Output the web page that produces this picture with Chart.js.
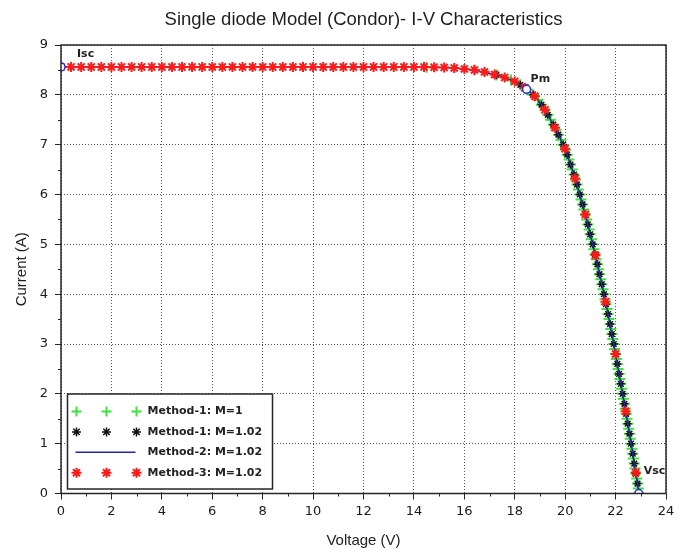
<!DOCTYPE html>
<html>
<head>
<meta charset="utf-8">
<title>Single diode Model (Condor)- I-V Characteristics</title>
<script src="https://cdn.jsdelivr.net/npm/chart.js@4.4.1/dist/chart.umd.min.js"></script>
<style>
  html, body { margin: 0; padding: 0; background: #fff; }
  #chart { display: block; }
</style>
</head>
<body>
<canvas id="chart" width="685" height="550"></canvas>
<script>
/* ================================================================
   Single diode model (Condor) - I-V characteristics
   ================================================================ */

// Method-3, M=1.02 (red stars) - sampled on the voltage axis
const redV = [0, 0.4, 0.8, 1.2, 1.6, 2.0, 2.4, 2.8, 3.2, 3.6, 4.0, 4.4, 4.8, 5.2, 5.6, 6.0,
  6.4, 6.8, 7.2, 7.6, 8.0, 8.4, 8.8, 9.2, 9.6, 10.0, 10.4, 10.8, 11.2, 11.6, 12.0, 12.4,
  12.8, 13.2, 13.6, 14.0, 14.4, 14.8, 15.2, 15.6, 16.0, 16.4, 16.8, 17.2, 17.6, 18.0, 18.4,
  18.8, 19.2, 19.6, 20.0, 20.4, 20.8, 21.2, 21.6, 22.0, 22.4, 22.8];
const redI = [8.56, 8.56, 8.56, 8.56, 8.56, 8.56, 8.56, 8.56, 8.56, 8.56, 8.56, 8.56, 8.56, 8.56, 8.56, 8.56,
  8.56, 8.56, 8.56, 8.56, 8.56, 8.56, 8.56, 8.56, 8.56, 8.56, 8.56, 8.56, 8.56, 8.56, 8.56, 8.56,
  8.56, 8.56, 8.56, 8.56, 8.56, 8.555, 8.55, 8.54, 8.52, 8.50, 8.46, 8.41, 8.35, 8.27, 8.14,
  7.97, 7.70, 7.34, 6.92, 6.32, 5.60, 4.78, 3.85, 2.80, 1.65, 0.42];

// Method-1, M=1 (green plus) - sampled on the current axis
const greenI = [8.555, 8.5, 8.4, 8.3, 8.2, 8.1, 8.0, 7.9, 7.8, 7.7, 7.6, 7.5, 7.4, 7.3, 7.2, 7.1,
  7.0, 6.9, 6.8, 6.7, 6.6, 6.5, 6.4, 6.3, 6.2, 6.1, 6.0, 5.9, 5.8, 5.7, 5.6, 5.5, 5.4, 5.3,
  5.2, 5.1, 5.0, 4.9, 4.8, 4.7, 4.6, 4.5, 4.4, 4.3, 4.2, 4.1, 4.0, 3.9, 3.8, 3.7, 3.6, 3.5,
  3.4, 3.3, 3.2, 3.1, 3.0, 2.9, 2.8, 2.7, 2.6, 2.5, 2.4, 2.3, 2.2, 2.1, 2.0, 1.9, 1.8, 1.7,
  1.6, 1.5, 1.4, 1.3, 1.2, 1.1, 1.0, 0.9, 0.8, 0.7, 0.6, 0.5, 0.4, 0.3, 0.2, 0.1, 0.0];
const greenV = [14.5, 16.4, 17.27, 17.85, 18.22, 18.5, 18.73, 18.92, 19.06, 19.2, 19.31, 19.42,
  19.53, 19.64, 19.73, 19.83, 19.92, 20.01, 20.08, 20.15, 20.21, 20.28, 20.35, 20.41, 20.47,
  20.52, 20.58, 20.63, 20.69, 20.74, 20.8, 20.85, 20.9, 20.95, 20.99, 21.04, 21.09, 21.14,
  21.19, 21.23, 21.28, 21.32, 21.36, 21.41, 21.45, 21.5, 21.54, 21.58, 21.62, 21.66, 21.7,
  21.74, 21.78, 21.81, 21.85, 21.89, 21.93, 21.96, 22.0, 22.03, 22.07, 22.1, 22.14, 22.17,
  22.21, 22.24, 22.28, 22.31, 22.35, 22.38, 22.42, 22.45, 22.48, 22.52, 22.55, 22.58, 22.61,
  22.65, 22.68, 22.71, 22.74, 22.77, 22.8, 22.84, 22.87, 22.9, 22.92];

// Method-1, M=1.02 (black stars)
const blackI = [8.4, 8.2, 8.0, 7.8, 7.6, 7.4, 7.2, 7.0, 6.8, 6.6, 6.4, 6.2, 6.0, 5.8, 5.6, 5.4,
  5.2, 5.0, 4.8, 4.6, 4.4, 4.2, 4.0, 3.8, 3.6, 3.4, 3.2, 3.0, 2.8, 2.6, 2.4, 2.2, 2.0, 1.8,
  1.6, 1.4, 1.2, 1.0, 0.8, 0.6, 0.4, 0.2];
const blackV = [17.27, 18.22, 18.73, 19.06, 19.31, 19.53, 19.73, 19.92, 20.08, 20.21, 20.35,
  20.47, 20.58, 20.69, 20.8, 20.9, 20.99, 21.09, 21.19, 21.28, 21.36, 21.45, 21.54, 21.62,
  21.7, 21.78, 21.85, 21.93, 22.0, 22.07, 22.14, 22.21, 22.28, 22.35, 22.42, 22.48, 22.55,
  22.61, 22.68, 22.74, 22.8, 22.87];

// Key points: short circuit, maximum power, open circuit
const keyNames = ['Isc', 'Pm', 'Vsc'];
const keyV = [0, 18.47, 22.92];
const keyI = [8.56, 8.11, 0];

const legendLabels = ['Method-1: M=1', 'Method-1: M=1.02', 'Method-2: M=1.02', 'Method-3: M=1.02'];
const xTicks = [0, 2, 4, 6, 8, 10, 12, 14, 16, 18, 20, 22, 24];
const yTicks = [0, 1, 2, 3, 4, 5, 6, 7, 8, 9];

const toPoints = (xs, ys) => xs.map((x, i) => ({ x: x, y: ys[i] }));

// Method-2 (blue line): flat part from the voltage sweep, steep part from the current sweep
const bluePoints = toPoints(redV, redI).filter(p => p.x <= 16.0)
  .concat(toPoints(greenV, greenI).slice(1));

const COLORS = { green: '#3fe03f', black: '#111111', blue: '#2727a6', red: '#ff1a1a', key: '#2a2ad0' };

function drawMarker(ctx, style, x, y, r, color, width) {
  ctx.save();
  ctx.strokeStyle = color;
  ctx.lineWidth = width;
  ctx.beginPath();
  if (style === 'cross' || style === 'star') {
    ctx.moveTo(x - r, y); ctx.lineTo(x + r, y);
    ctx.moveTo(x, y - r); ctx.lineTo(x, y + r);
  }
  if (style === 'star') {
    const d = r * Math.SQRT1_2;
    ctx.moveTo(x - d, y - d); ctx.lineTo(x + d, y + d);
    ctx.moveTo(x - d, y + d); ctx.lineTo(x + d, y - d);
  }
  if (style === 'line') {
    ctx.moveTo(x - r, y); ctx.lineTo(x + r, y);
  }
  ctx.stroke();
  ctx.restore();
}

// Title, frame, minor ticks, point labels and the boxed legend
const decorations = {
  id: 'decorations',
  afterDatasetsDraw(chart) {
    const { ctx, chartArea: a, scales } = chart;

    // frame
    ctx.save();
    ctx.strokeStyle = '#262626';
    ctx.lineWidth = 1.5;
    ctx.strokeRect(a.left, a.top, a.right - a.left, a.bottom - a.top);

    // minor ticks
    ctx.lineWidth = 1;
    ctx.beginPath();
    for (let v = 1; v < 24; v += 2) {
      const px = Math.round(scales.x.getPixelForValue(v)) + 0.5;
      ctx.moveTo(px, a.bottom); ctx.lineTo(px, a.bottom + 3);
    }
    for (let v = 0.5; v < 9; v += 1) {
      const py = Math.round(scales.y.getPixelForValue(v)) + 0.5;
      ctx.moveTo(a.left, py); ctx.lineTo(a.left - 3, py);
    }
    ctx.stroke();

    // title
    ctx.fillStyle = '#1e1e1e';
    ctx.font = '18.5px "Liberation Sans", Arial, sans-serif';
    ctx.textAlign = 'center';
    ctx.textBaseline = 'middle';
    ctx.fillText('Single diode Model (Condor)- I-V Characteristics', (a.left + a.right) / 2, 20);

    // key point labels
    const offsets = [[16, -13], [4, -10], [5, -22]];
    ctx.font = 'bold 11px "DejaVu Sans", sans-serif';
    ctx.textAlign = 'left';
    ctx.fillStyle = '#222';
    keyNames.forEach((name, i) => {
      const px = scales.x.getPixelForValue(keyV[i]);
      const py = scales.y.getPixelForValue(keyI[i]);
      ctx.fillText(name, px + offsets[i][0], py + offsets[i][1]);
    });

    // legend box
    const bx = a.left + 6.5, by = a.bottom - 99.5, bw = 205, bh = 95;
    ctx.fillStyle = '#fff';
    ctx.fillRect(bx, by, bw, bh);
    ctx.strokeStyle = '#262626';
    ctx.lineWidth = 1.5;
    ctx.strokeRect(bx, by, bw, bh);

    const rows = [
      { style: 'cross', color: COLORS.green, r: 5, w: 2 },
      { style: 'star', color: COLORS.black, r: 4.5, w: 1.5 },
      { style: 'line', color: COLORS.blue, r: 30, w: 1.5 },
      { style: 'star', color: COLORS.red, r: 5, w: 2 }
    ];
    ctx.font = 'bold 11px "DejaVu Sans", sans-serif';
    ctx.fillStyle = '#222';
    rows.forEach((row, i) => {
      const ry = by + 17.5 + i * 20.4;
      if (row.style === 'line') {
        drawMarker(ctx, 'line', bx + 38, ry, row.r, row.color, row.w);
      } else {
        [bx + 9, bx + 39, bx + 69].forEach(mx => drawMarker(ctx, row.style, mx, ry, row.r, row.color, row.w));
      }
      ctx.fillText(legendLabels[i], bx + 80, ry);
    });
    ctx.restore();
  }
};

new Chart(document.getElementById('chart'), {
  type: 'scatter',
  data: {
    datasets: [
      {
        label: 'key points',
        data: toPoints(keyV, keyI),
        pointStyle: 'circle',
        pointRadius: 4,
        pointBorderWidth: 1.5,
        pointBorderColor: COLORS.key,
        pointBackgroundColor: '#fff',
        clip: 0
      },
      {
        label: legendLabels[3],
        data: toPoints(redV, redI),
        pointStyle: 'star',
        pointRadius: 5,
        pointBorderWidth: 2,
        pointBorderColor: COLORS.red,
        pointBackgroundColor: COLORS.red
      },
      {
        label: legendLabels[2],
        data: bluePoints,
        showLine: true,
        borderColor: COLORS.blue,
        borderWidth: 1.5,
        pointRadius: 0
      },
      {
        label: legendLabels[1],
        data: toPoints(blackV, blackI),
        pointStyle: 'star',
        pointRadius: 4,
        pointBorderWidth: 1.5,
        pointBorderColor: COLORS.black,
        pointBackgroundColor: COLORS.black
      },
      {
        label: legendLabels[0],
        data: toPoints(greenV, greenI),
        pointStyle: 'cross',
        pointRadius: 5.5,
        pointBorderWidth: 2,
        pointBorderColor: COLORS.green,
        pointBackgroundColor: COLORS.green
      }
    ]
  },
  options: {
    responsive: false,
    animation: false,
    devicePixelRatio: 1,
    layout: { padding: { top: 45, right: 19, bottom: 0, left: 0 } },
    plugins: {
      legend: { display: false },
      title: { display: false },
      tooltip: { enabled: false }
    },
    scales: {
      x: {
        type: 'linear',
        min: 0,
        max: 24,
        afterBuildTicks: (scale) => { scale.ticks = xTicks.map(v => ({ value: v })); },
        afterFit: (scale) => { scale.height = 56.5; },
        ticks: { color: '#1a1a1a', font: { family: 'DejaVu Sans', size: 13 }, padding: 4, maxRotation: 0 },
        grid: { color: '#555', lineWidth: 1, tickLength: 6, tickColor: '#262626' },
        border: { display: false, dash: [1, 2] },
        title: {
          display: true,
          text: 'Voltage (V)',
          color: '#222',
          font: { family: 'Liberation Sans', size: 15 },
          padding: { top: 0, bottom: 0 }
        }
      },
      y: {
        type: 'linear',
        min: 0,
        max: 9,
        afterBuildTicks: (scale) => { scale.ticks = yTicks.map(v => ({ value: v })); },
        afterFit: (scale) => { scale.width = 61; },
        ticks: { color: '#1a1a1a', font: { family: 'DejaVu Sans', size: 13 }, padding: 7 },
        grid: { color: '#555', lineWidth: 1, tickLength: 6, tickColor: '#262626' },
        border: { display: false, dash: [1, 2] },
        title: {
          display: true,
          text: 'Current (A)',
          color: '#222',
          font: { family: 'Liberation Sans', size: 15 },
          padding: { top: 13, bottom: 0 }
        }
      }
    }
  },
  plugins: [decorations]
});
</script>
</body>
</html>
